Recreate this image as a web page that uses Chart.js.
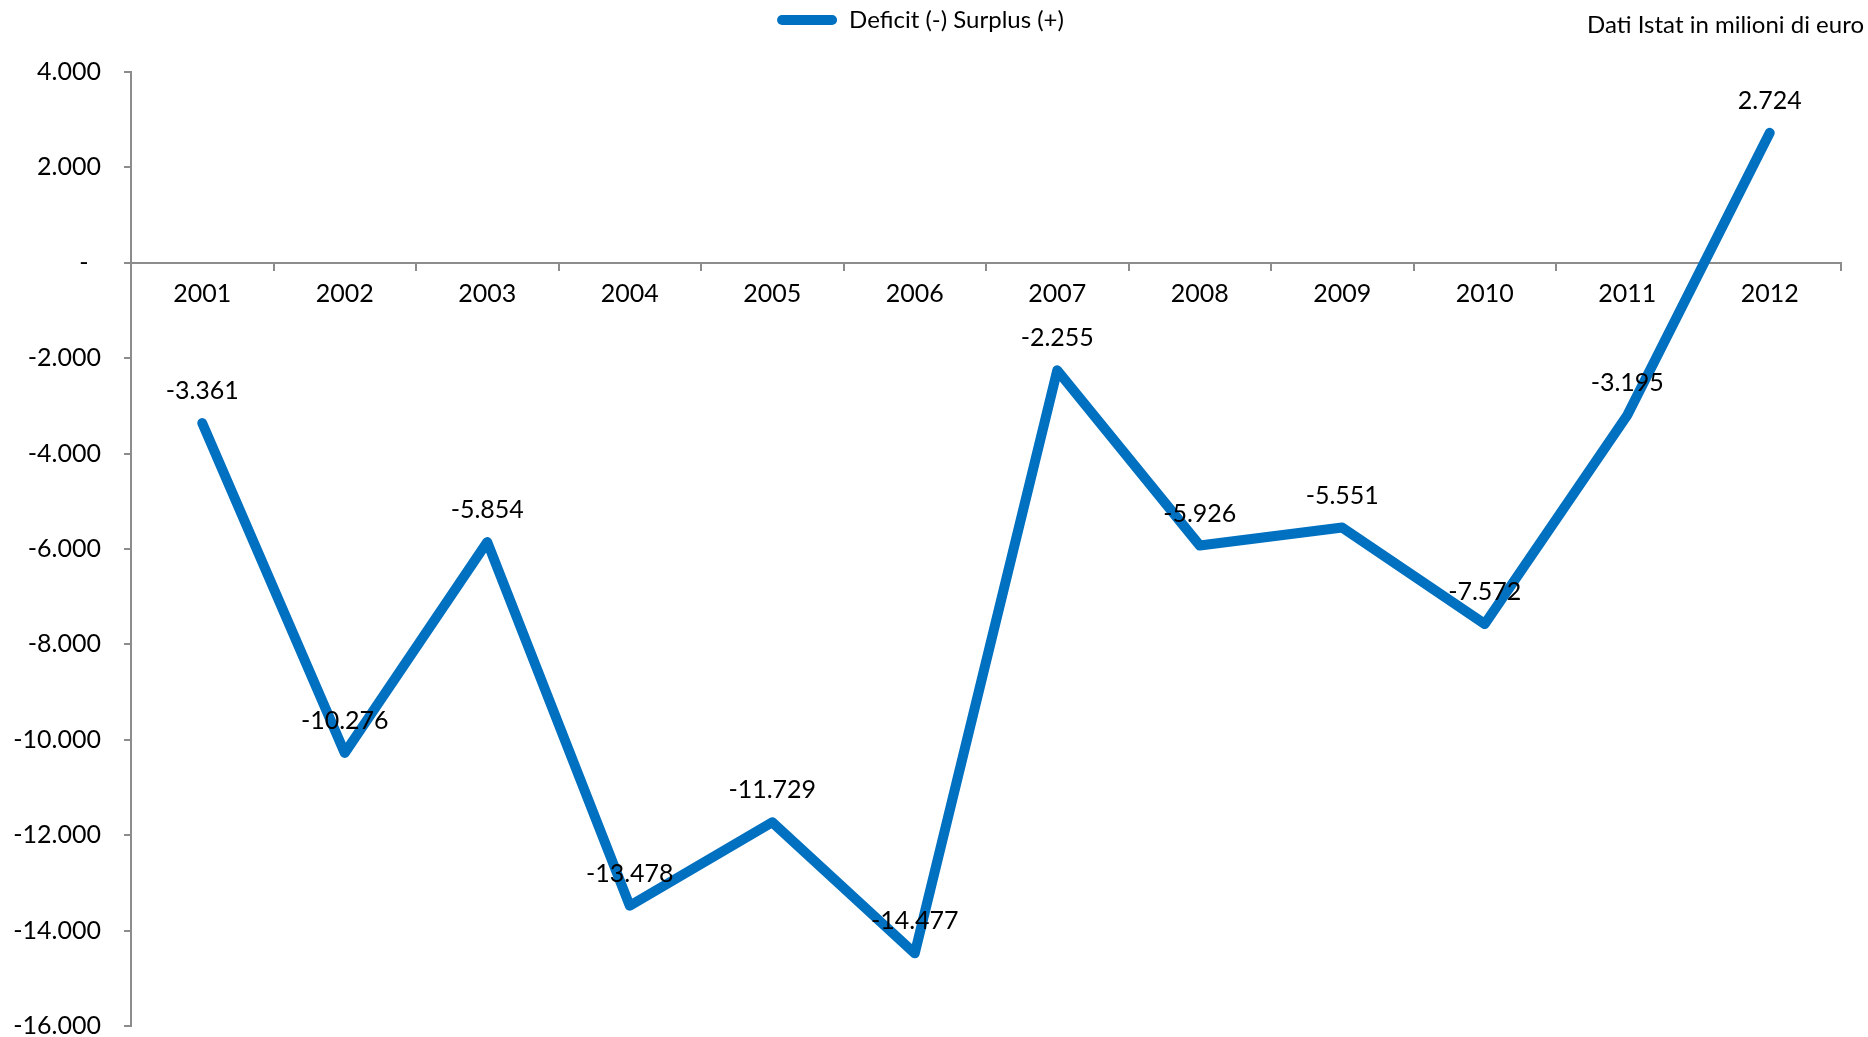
<!DOCTYPE html>
<html>
<head>
<meta charset="utf-8">
<script src="https://cdn.jsdelivr.net/npm/chart.js@4/dist/chart.umd.min.js"></script>
<style>
  html, body { margin: 0; padding: 0; background: #ffffff; }
  #wrap { width: 1868px; height: 1037px; }
</style>
</head>
<body>
<div id="wrap"><canvas id="c" width="1868" height="1037"></canvas></div>
<script>
const years = ['2001','2002','2003','2004','2005','2006','2007','2008','2009','2010','2011','2012'];
const deficitSurplus = [-3361, -10276, -5854, -13478, -11729, -14477, -2255, -5926, -5551, -7572, -3195, 2724];
const seriesName = 'Deficit (-) Surplus (+)';
const noteText = 'Dati Istat in milioni di euro';
const yMin = -16000, yMax = 4000, yStep = 2000;

const FONT = 'Lato, "Liberation Sans", sans-serif';
const BLUE = '#0070C0';
const AXIS = '#8c8c8c';

function fmt(v) {
  if (v === 0) return '-';
  const s = Math.abs(v).toString().replace(/\B(?=(\d{3})+(?!\d))/g, '.');
  return (v < 0 ? '-' : '') + s;
}

const labelPlugin = {
  id: 'labelsAndNote',
  beforeLayout(chart) {
    const lg = chart.legend;
    if (lg && !lg._patched) {
      const f = lg.fit;
      lg.fit = function () { f.call(this); this.height = 72; };
      lg._patched = true;
    }
  },
  afterDatasetsDraw(chart) {
    const ctx = chart.ctx;
    const meta = chart.getDatasetMeta(0);
    ctx.save();
    ctx.fillStyle = '#000';
    ctx.font = '25px ' + FONT;
    ctx.textAlign = 'center';
    ctx.textBaseline = 'middle';
    meta.data.forEach((pt, i) => {
      ctx.fillText(fmt(chart.data.datasets[0].data[i]), pt.x, pt.y - 32);
    });
    ctx.font = '24px ' + FONT;
    ctx.textAlign = 'right';
    ctx.fillText(noteText, 1864, 25);
    ctx.restore();
  }
};

new Chart(document.getElementById('c'), {
  type: 'line',
  data: {
    labels: years,
    datasets: [{
      label: seriesName,
      data: deficitSurplus,
      borderColor: BLUE,
      backgroundColor: BLUE,
      borderWidth: 10,
      borderCapStyle: 'round',
      borderJoinStyle: 'round',
      pointRadius: 0,
      pointHoverRadius: 0,
      tension: 0,
      fill: false
    }]
  },
  options: {
    responsive: false,
    animation: false,
    devicePixelRatio: 1,
    layout: { padding: { top: 0, left: 0, right: 27, bottom: 11 } },
    plugins: {
      legend: {
        display: true,
        position: 'top',
        labels: {
          color: '#000',
          font: { family: FONT, size: 24 },
          boxWidth: 60,
          boxHeight: 10,
          padding: 8,
          useBorderRadius: true,
          borderRadius: 5,
          generateLabels(chart) {
            return Chart.defaults.plugins.legend.labels.generateLabels(chart).map(l => {
              l.lineWidth = 0;
              l.fillStyle = BLUE;
              l.strokeStyle = BLUE;
              return l;
            });
          }
        }
      },
      tooltip: { enabled: false },
      title: { display: false }
    },
    scales: {
      x: {
        type: 'category',
        position: { y: 0 },
        offset: true,
        grid: {
          display: true,
          offset: true,
          drawOnChartArea: false,
          drawTicks: true,
          tickLength: 7,
          color: AXIS,
          lineWidth: 2
        },
        border: { display: true, color: AXIS, width: 2 },
        ticks: {
          color: '#000',
          font: { family: FONT, size: 25 },
          padding: 9,
          maxRotation: 0,
          autoSkip: false
        }
      },
      y: {
        min: yMin,
        max: yMax,
        afterFit(scale) {
          scale.width = 131;
          scale.paddingTop = 0;
          scale.paddingBottom = 0;
        },
        grid: {
          display: true,
          drawOnChartArea: false,
          drawTicks: true,
          tickLength: 7,
          color: AXIS,
          lineWidth: 2
        },
        border: { display: true, color: AXIS, width: 2 },
        ticks: {
          stepSize: yStep,
          color: '#000',
          font: { family: FONT, size: 25 },
          padding: 23,
          callback: (v) => v === 0 ? '-\u2002' : fmt(v)
        }
      }
    }
  },
  plugins: [labelPlugin]
});
</script>
</body>
</html>
